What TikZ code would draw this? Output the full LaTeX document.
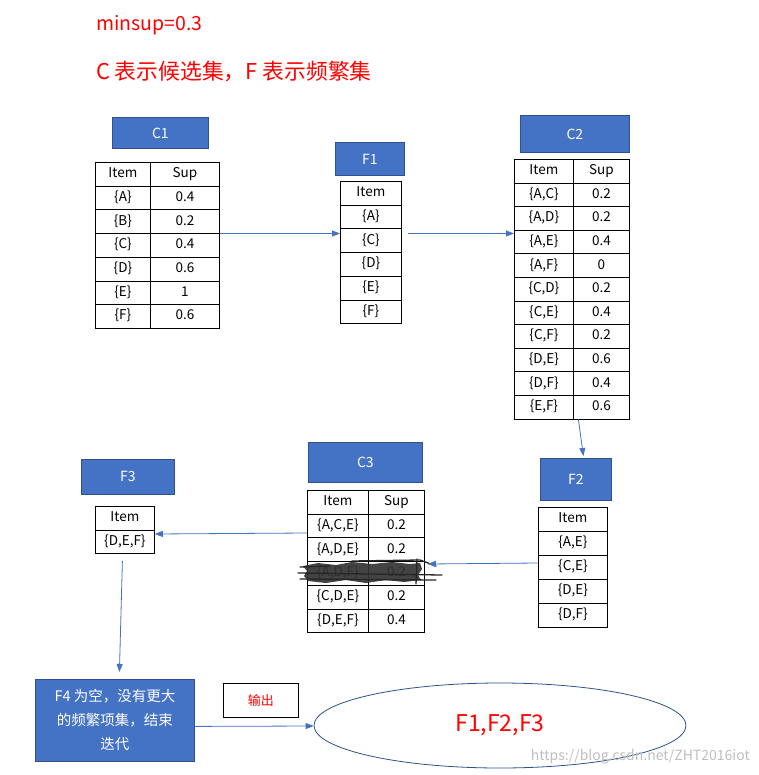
\documentclass[tikz,border=0pt]{standalone}
\usepackage{fontspec}
\setmainfont{Noto Sans CJK SC}
\usetikzlibrary{arrows.meta,matrix,shapes.geometric}
\definecolor{wblue}{HTML}{4472C4}
\definecolor{wborder}{HTML}{2F528F}
\tikzset{
  bluebox/.style={draw=wborder, fill=wblue, text=white, font=\fontsize{14}{16}\selectfont, inner sep=0pt, line width=0.8pt, anchor=north west},
  tbl/.style={matrix of nodes, anchor=north west, inner sep=0pt, outer sep=0pt, column sep=-0.8pt, row sep=-0.8pt,
    nodes={draw, line width=0.8pt, inner sep=0pt, font=\fontsize{13.5}{15}\selectfont, text height=10pt, text depth=3pt}},
  arr/.style={draw=wblue, line width=0.8pt, -{Triangle[length=8pt,width=6pt]}},
  redtext/.style={text=red, inner sep=0pt},
  scribline/.style={black!85, line width=1.3pt, line cap=round},
}
\begin{document}
\begin{tikzpicture}[x=1pt,y=-1pt]
\useasboundingbox[fill=white] (0,0) rectangle (758,775);

% titles
\node[redtext, anchor=west, font=\fontsize{19.5}{22}\selectfont] (t1) at (96,25) {minsup=0.3};
\node[redtext, anchor=west, font=\fontsize{21.8}{24}\selectfont] (t2) at (96,71) {C 表示候选集，F 表示频繁集};

% C1
\node[bluebox, minimum width=96pt, minimum height=31pt] (c1) at (112,117) {C1};
\matrix[tbl, column 1/.style={nodes={minimum width=55pt}}, column 2/.style={nodes={minimum width=69pt}},
  every node/.append style={minimum height=23.7pt}] (c1t) at (95,162) {
  Item & Sup \\
  \{A\} & 0.4 \\
  \{B\} & 0.2 \\
  \{C\} & 0.4 \\
  \{D\} & 0.6 \\
  \{E\} & 1 \\
  \{F\} & 0.6 \\
};

% F1
\node[bluebox, minimum width=69pt, minimum height=33pt] (f1) at (335,142) {F1};
\matrix[tbl, column 1/.style={nodes={minimum width=61pt}},
  every node/.append style={minimum height=23.7pt}] (f1t) at (340,181) {
  Item \\
  \{A\} \\
  \{C\} \\
  \{D\} \\
  \{E\} \\
  \{F\} \\
};

% C2
\node[bluebox, minimum width=109pt, minimum height=37pt] (c2) at (520,115) {C2};
\matrix[tbl, column 1/.style={nodes={minimum width=59pt}}, column 2/.style={nodes={minimum width=56pt}},
  every node/.append style={minimum height=23.6pt}] (c2t) at (514,159) {
  Item & Sup \\
  \{A,C\} & 0.2 \\
  \{A,D\} & 0.2 \\
  \{A,E\} & 0.4 \\
  \{A,F\} & 0 \\
  \{C,D\} & 0.2 \\
  \{C,E\} & 0.4 \\
  \{C,F\} & 0.2 \\
  \{D,E\} & 0.6 \\
  \{D,F\} & 0.4 \\
  \{E,F\} & 0.6 \\
};

% F2
\node[bluebox, minimum width=71pt, minimum height=42pt] (f2) at (540,458) {F2};
\matrix[tbl, column 1/.style={nodes={minimum width=69pt}},
  every node/.append style={minimum height=24pt}] (f2t) at (538,507) {
  Item \\
  \{A,E\} \\
  \{C,E\} \\
  \{D,E\} \\
  \{D,F\} \\
};

% C3
\node[bluebox, minimum width=114pt, minimum height=40pt] (c3) at (308,442) {C3};
\matrix[tbl, column 1/.style={nodes={minimum width=61pt}}, column 2/.style={nodes={minimum width=56pt}},
  every node/.append style={minimum height=23.7pt}] (c3t) at (307,490) {
  Item & Sup \\
  \{A,C,E\} & 0.2 \\
  \{A,D,E\} & 0.2 \\
  \{A,D,F\} & 0.2 \\
  \{C,D,E\} & 0.2 \\
  \{D,E,F\} & 0.4 \\
};
% scribble over the crossed-out row
\fill[black!80, opacity=0.92]
  (303,566) -- (318,563) -- (336,565) -- (352,562) -- (372,564) -- (392,562) -- (410,564) -- (420,563)
  -- (422,569) -- (418,575) -- (421,580) -- (404,582) -- (386,580) -- (366,583) -- (346,580) -- (326,583)
  -- (308,581) -- (304,576) -- (307,571) -- cycle;
\draw[scribline] (298,573) -- (442,575);
\draw[scribline] (300,579) -- (436,580);
\draw[scribline] (352,561) -- (420,560) -- (436,566);
\draw[scribline] (417,559) -- (416,584);
\draw[scribline] (300,567) -- (330,566);

% F3
\node[bluebox, minimum width=93pt, minimum height=35pt] (f3) at (81,459) {F3};
\matrix[tbl, column 1/.style={nodes={minimum width=59pt}},
  every node/.append style={minimum height=23.5pt}] (f3t) at (95,506) {
  Item \\
  \{D,E,F\} \\
};

% F4
\node[bluebox, minimum width=159pt, minimum height=82pt, align=center,
  font=\fontsize{14.5}{24}\selectfont] (f4) at (35,679) {F4 为空，没有更大\\的频繁项集，结束\\迭代};

% output label
\node[draw, line width=0.8pt, minimum width=75pt, minimum height=34pt, text=red,
  font=\fontsize{13}{15}\selectfont, inner sep=0pt, anchor=north west] (out) at (223,683) {输出};

% ellipse
\node[draw=wborder, line width=0.8pt, ellipse, minimum width=372pt, minimum height=85pt, inner sep=0pt,
  text=red, font=\fontsize{23}{26}\selectfont] (ell) at (500,725.5) {F1,F2,F3};

% watermark
\node[text=black!25, font=\fontsize{14}{16}\selectfont, anchor=east, inner sep=0pt] (wm) at (750,757) {https://blog.csdn.net/ZHT2016iot};

% connectors
\draw[arr] (c1t.east |- c1t-4-2.north) -- (f1t.west |- c1t-4-2.north);
\draw[arr] ([xshift=6pt]f1t.east |- c1t-4-2.north) -- (c2t.west |- c1t-4-2.north);
\draw[arr] ([xshift=6.5pt]c2t.south) -- ([xshift=7.5pt,yshift=2pt]f2.north);
\draw[arr] (f2t.west |- 0,563) -- ([xshift=3pt]c3t.east |- 0,564);
\draw[arr] (c3t.west |- 0,533) -- (f3t.east |- 0,534);
\draw[arr] ([xshift=-2.5pt,yshift=-7pt]f3t.south) -- ([xshift=4.5pt,yshift=7pt]f4.north);
\draw[arr] ([yshift=-6pt]f4.east) -- (ell.west |- 0,726);
\end{tikzpicture}
\end{document}
